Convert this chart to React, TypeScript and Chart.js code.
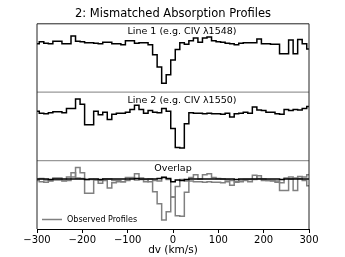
import React, { useEffect, useRef } from 'react';
import { Chart, registerables } from 'chart.js';

Chart.register(...registerables);

const velocities = [
  -300, -290, -280, -270, -260, -250, -240, -230, -220, -210,
  -200, -190, -180, -170, -160, -150, -140, -130, -120, -110,
  -100, -90, -80, -70, -60, -50, -40, -30, -20, -10,
  0, 10, 20, 30, 40, 50, 60, 70, 80, 90,
  100, 110, 120, 130, 140, 150, 160, 170, 180, 190,
  200, 210, 220, 230, 240, 250, 260, 270, 280, 290, 300,
];

const line1Flux = [
  0.97, 1.01, 0.98, 0.97, 1.02, 1.02, 0.97, 0.97, 1.12, 1.02,
  1.01, 0.99, 0.99, 0.98, 0.97, 1.0, 1.0, 0.97, 0.97, 0.95,
  1.03, 1.03, 0.98, 0.99, 0.99, 0.95, 0.76, 0.53, 0.22, 0.38,
  0.66, 0.86, 0.99, 0.96, 1.03, 1.08, 1.0, 1.08, 1.1, 1.03,
  1.01, 1.0, 0.98, 0.97, 0.95, 0.98, 0.99, 0.99, 0.99, 1.06,
  0.97, 0.97, 0.96, 0.96, 0.78, 0.78, 1.04, 0.78, 1.05, 0.97, 0.87,
];

const line2Flux = [
  0.99, 0.95, 0.94, 0.96, 0.98, 0.98, 0.96, 1.04, 1.04, 1.22,
  1.12, 0.73, 0.73, 0.99, 0.92, 0.97, 0.83, 0.93, 0.95, 0.95,
  0.97, 1.02, 1.1, 1.02, 0.95, 1.0, 0.97, 0.96, 1.04, 0.99,
  0.66, 0.30, 0.29, 0.75, 0.96, 0.95, 0.95, 0.94, 0.95, 0.94,
  0.94, 0.93, 0.95, 0.88, 0.94, 0.95, 0.97, 0.95, 1.07, 1.01,
  1.0, 0.97, 0.97, 0.94, 0.93, 1.02, 1.0, 1.02, 1.01, 1.04, 1.08,
];

const overlapModel = [
  1.0, 1.0, 1.0, 0.99, 1.0, 1.0, 1.0, 1.0, 1.0, 1.0,
  1.0, 0.99, 1.0, 1.0, 0.99, 1.0, 1.0, 1.0, 1.0, 1.0,
  1.0, 1.0, 1.01, 1.0, 1.0, 1.0, 1.0, 1.01, 1.03, 1.01,
  0.95, 0.98, 0.97, 0.99, 1.0, 1.0, 1.0, 1.0, 1.0, 1.0,
  1.0, 1.0, 1.0, 1.0, 0.99, 1.0, 1.0, 1.0, 1.0, 1.0,
  1.0, 1.0, 1.0, 1.0, 0.99, 1.0, 1.0, 1.0, 1.0, 1.0, 1.0,
];

const xTicks = [-300, -200, -100, 0, 100, 200, 300];
const titleText = '2: Mismatched Absorption Profiles';
const panelLabels = ['Line 1 (e.g. CIV \u03bb1548)', 'Line 2 (e.g. CIV \u03bb1550)', 'Overlap'];
const legendLabel = 'Observed Profiles';
const xAxisLabel = 'dv (km/s)';

const FONT = 'DejaVu Sans';
const Y_MIN = 0.05;
const Y_MAX = 1.35;

const pts = (vals: number[]) => velocities.map((v, i) => ({ x: v, y: vals[i] }));

export default function App() {
  const ref = useRef<HTMLCanvasElement | null>(null);

  useEffect(() => {
    const canvas = ref.current;
    if (!canvas) return;

    const framePlugin = {
      id: 'frame',
      afterDatasetsDraw(chart: any) {
        const ctx = chart.ctx;
        const a = chart.chartArea;
        const s1 = chart.scales.p1;
        const s2 = chart.scales.p2;
        const s3 = chart.scales.p3;
        ctx.save();
        ctx.strokeStyle = '#999999';
        ctx.lineWidth = 1.2;
        [s2.top, s3.top].forEach((y: number) => {
          ctx.beginPath();
          ctx.moveTo(a.left, y);
          ctx.lineTo(a.right, y);
          ctx.stroke();
        });
        ctx.strokeStyle = '#222222';
        ctx.lineWidth = 1;
        ctx.beginPath();
        ctx.moveTo(a.left, a.bottom);
        ctx.lineTo(a.left, a.top);
        ctx.lineTo(a.right, a.top);
        ctx.lineTo(a.right, a.bottom);
        ctx.stroke();
        ctx.fillStyle = '#000';
        ctx.font = `9.5px "${FONT}"`;
        ctx.textAlign = 'center';
        ctx.textBaseline = 'middle';
        const cx = (a.left + a.right) / 2;
        const shifts = [9, 9, 0];
        [s1, s2, s3].forEach((s: any, i: number) => {
          ctx.fillText(panelLabels[i], cx + shifts[i], s.top + 8);
        });
        const ly = s3.bottom - 9.5;
        ctx.strokeStyle = '#808080';
        ctx.lineWidth = 1.5;
        ctx.beginPath();
        ctx.moveTo(a.left + 5, ly);
        ctx.lineTo(a.left + 25, ly);
        ctx.stroke();
        ctx.fillStyle = '#000';
        ctx.font = `8px "${FONT}"`;
        ctx.textAlign = 'left';
        ctx.fillText(legendLabel, a.left + 30, ly);
        ctx.restore();
      },
    };

    const yScale = (weight: number) => ({
      type: 'linear' as const,
      position: 'left' as const,
      stack: 'panels',
      stackWeight: 1,
      weight,
      min: Y_MIN,
      max: Y_MAX,
      ticks: { display: false },
      grid: { display: false, drawTicks: false },
      border: { display: false },
      afterFit: (s: any) => {
        s.width = 0;
        s.paddingTop = 0;
        s.paddingBottom = 0;
      },
    });

    const ds = (label: string, vals: number[], axis: string, color: string) => ({
      label,
      data: pts(vals),
      yAxisID: axis,
      stepped: 'middle' as const,
      borderColor: color,
      borderWidth: 1.5,
      pointRadius: 0,
      fill: false,
    });

    const chart = new Chart(canvas, {
      type: 'line',
      data: {
        datasets: [
          ds('model', overlapModel, 'p3', '#000000'),
          ds('line1', line1Flux, 'p1', '#000000'),
          ds('line2', line2Flux, 'p2', '#000000'),
          ds('obs1', line1Flux, 'p3', '#808080'),
          ds('obs2', line2Flux, 'p3', '#808080'),
        ],
      },
      options: {
        animation: false,
        responsive: false,
        maintainAspectRatio: false,
        layout: { padding: { left: 37, right: 36, top: 0, bottom: 0 } },
        scales: {
          x: {
            type: 'linear',
            min: -300,
            max: 300,
            afterBuildTicks: (s: any) => {
              s.ticks = xTicks.map((v) => ({ value: v }));
            },
            ticks: {
              color: '#000',
              font: { family: FONT, size: 10 },
              padding: 1,
              maxRotation: 0,
              autoSkip: false,
              callback: (v: any) => (Number(v) < 0 ? '\u2212' + Math.abs(Number(v)) : String(v)),
            },
            grid: {
              display: true,
              drawOnChartArea: false,
              drawTicks: true,
              tickLength: 4,
              color: '#000',
            },
            border: { display: true, color: '#000', width: 1 },
            title: {
              display: true,
              text: xAxisLabel,
              color: '#000',
              font: { family: FONT, size: 10.5 },
              padding: { top: 0, bottom: 0 },
            },
            afterFit: (s: any) => {
              s.height = 28;
              s.paddingLeft = 0;
              s.paddingRight = 0;
            },
          },
          p1: yScale(3),
          p2: yScale(2),
          p3: yScale(1),
        },
        plugins: {
          legend: { display: false },
          tooltip: { enabled: false },
          title: {
            display: true,
            text: titleText,
            color: '#000',
            font: { family: FONT, size: 11.5, weight: 'normal' },
            padding: { top: 7, bottom: 3 },
          },
        },
      } as any,
      plugins: [framePlugin],
    });

    return () => chart.destroy();
  }, []);

  return (
    <div style={{ position: 'absolute', left: 0, top: 0, width: 345, height: 257, background: '#fff' }}>
      <canvas ref={ref} width={345} height={257} style={{ width: 345, height: 257 }} />
    </div>
  );
}
